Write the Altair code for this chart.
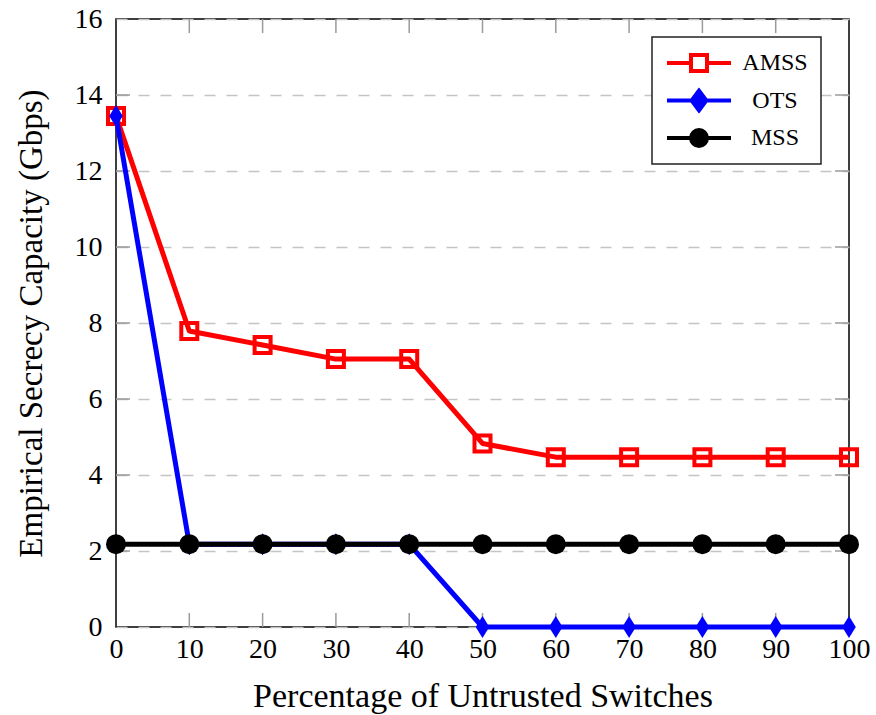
import altair as alt
import pandas as pd

# ---- data ----
x_vals = [0, 10, 20, 30, 40, 50, 60, 70, 80, 90, 100]
amss = [13.45, 7.79, 7.42, 7.05, 7.05, 4.83, 4.47, 4.47, 4.47, 4.47, 4.47]
ots = [13.45, 2.18, 2.18, 2.18, 2.18, 0.0, 0.0, 0.0, 0.0, 0.0, 0.0]
mss = [2.18, 2.18, 2.18, 2.18, 2.18, 2.18, 2.18, 2.18, 2.18, 2.18, 2.18]

series_names = ["AMSS", "OTS", "MSS"]
series_colors = ["#ff0000", "#0000ff", "#000000"]
legend_fills = ["#ffffff", "#0000ff", "#000000"]

x_ticks = [0, 10, 20, 30, 40, 50, 60, 70, 80, 90, 100]
y_ticks = [0, 2, 4, 6, 8, 10, 12, 14, 16]
inner_x_ticks = [10, 20, 30, 40, 50, 60, 70, 80, 90]
inner_y_ticks = [2, 4, 6, 8, 10, 12, 14]

rows = []
for name, vals in zip(series_names, [amss, ots, mss]):
    for xv, yv in zip(x_vals, vals):
        rows.append({"series": name, "x": xv, "y": yv})
df = pd.DataFrame(rows)

FONT = "Liberation Serif"
W, H = 733, 608

x_scale = alt.Scale(domain=[0, 100], nice=False, zero=False)
y_scale = alt.Scale(domain=[0, 16], nice=False, zero=False)

x_enc = alt.X(
    "x:Q", scale=x_scale,
    axis=alt.Axis(values=x_ticks, title="Percentage of Untrusted Switches",
                  grid=False, ticks=False, domain=False,
                  labelFont=FONT, labelFontSize=28, labelColor="black",
                  labelPadding=8, labelFlush=False,
                  titleFont=FONT, titleFontSize=34, titleFontWeight="normal",
                  titleColor="black", titlePadding=16))
y_enc = alt.Y(
    "y:Q", scale=y_scale,
    axis=alt.Axis(values=y_ticks, title="Empirical Secrecy Capacity (Gbps)",
                  grid=True, gridDash=[11, 11], gridColor="#c4c4c4", gridWidth=1.5,
                  ticks=False, domain=False,
                  labelFont=FONT, labelFontSize=28, labelColor="black",
                  labelPadding=14, labelFlush=False,
                  titleFont=FONT, titleFontSize=33, titleFontWeight="normal",
                  titleColor="black", titlePadding=26))

base = alt.Chart(df)
layers = []

diamond_path = "M0,-1L0.62,0L0,1L-0.62,0Z"

for name, col in zip(series_names, series_colors):
    sub = base.transform_filter(alt.datum.series == name)
    line = sub.mark_line(color=col, strokeWidth=5, strokeJoin="round").encode(x=x_enc, y=y_enc)
    if name == "AMSS":
        pts = sub.mark_point(shape="square", size=256, filled=False, color=col,
                             strokeWidth=4, opacity=1).encode(x=x_enc, y=y_enc)
    elif name == "OTS":
        pts = sub.mark_point(shape=diamond_path, size=484, filled=True, color=col,
                             strokeWidth=1, opacity=1).encode(x=x_enc, y=y_enc)
    else:
        pts = sub.mark_circle(size=400, color=col, opacity=1).encode(x=x_enc, y=y_enc)
    layers += [line, pts]

# inward ticks (top/bottom for x, right/left for y)
tx = pd.DataFrame({"x": inner_x_ticks})
ty = pd.DataFrame({"y": inner_y_ticks})
tick_color = "#9a9a9a"
xt_bottom = alt.Chart(tx).mark_rule(color=tick_color, strokeWidth=1.5).encode(
    x=x_enc, y=alt.value(H), y2=alt.value(H - 14))
xt_top = alt.Chart(tx).mark_rule(color=tick_color, strokeWidth=1.5).encode(
    x=x_enc, y=alt.value(0), y2=alt.value(14))
yt_right = alt.Chart(ty).mark_rule(color=tick_color, strokeWidth=1.5).encode(
    y=y_enc, x=alt.value(W), x2=alt.value(W - 14))
yt_left = alt.Chart(ty).mark_rule(color=tick_color, strokeWidth=1.5).encode(
    y=y_enc, x=alt.value(0), x2=alt.value(14))

# legend from an empty layer with custom line+marker symbols
leg_shapes = [
    "M-1,0H-0.31M0.31,0H1M-0.25,-0.25H0.25V0.25H-0.25Z",
    "M-1,0H-0.24M0.24,0H1M0,-0.31L0.23,0L0,0.31L-0.23,0Z",
    "M-1,0H-0.25M0.25,0H1M0.25,0A0.25,0.25 0 1,1 -0.25,0A0.25,0.25 0 1,1 0.25,0Z",
]
legend = alt.Legend(title=None, orient="none", legendX=536, legendY=18,
                    symbolSize=4096, symbolStrokeWidth=4, clipHeight=26,
                    rowPadding=11.5, padding=13, strokeColor="#222222",
                    fillColor="white", labelFont=FONT, labelFontSize=24,
                    labelColor="black", labelAlign="center", labelOffset=42,
                    symbolOpacity=1)
leg_layer = alt.Chart(df).transform_filter("false").mark_point(
    filled=True, opacity=1, strokeWidth=4).encode(
    x=x_enc, y=y_enc,
    shape=alt.Shape("series:N", scale=alt.Scale(domain=series_names, range=leg_shapes), legend=legend),
    stroke=alt.Stroke("series:N", scale=alt.Scale(domain=series_names, range=series_colors), legend=legend),
    fill=alt.Fill("series:N", scale=alt.Scale(domain=series_names, range=legend_fills), legend=legend),
)

chart = alt.layer(xt_bottom, xt_top, yt_right, yt_left, *layers, leg_layer).properties(
    width=W, height=H,
    autosize=alt.AutoSizeParams(type="none"),
    padding={"left": 116, "top": 19, "right": 27, "bottom": 88},
).configure_view(stroke="black", strokeWidth=1.5).configure_legend(strokeWidth=1.5)

chart.save("out.html", embed_options={"renderer": "svg", "actions": False})
